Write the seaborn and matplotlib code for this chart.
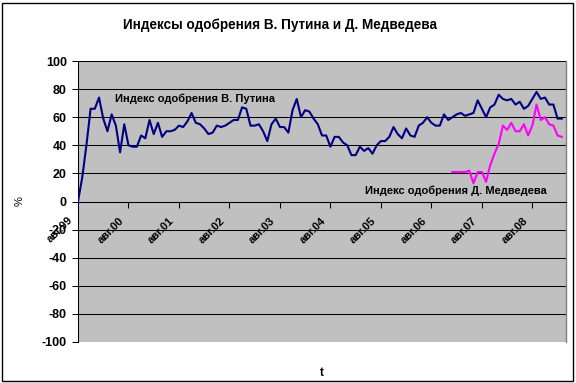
import pandas as pd
import matplotlib
matplotlib.use("Agg")
import matplotlib.pyplot as plt
import matplotlib.transforms as mtransforms
from matplotlib.patches import Rectangle
import seaborn as sns

# monthly approval index, Aug 1999 .. Mar 2009
putin = [
    0, 17, 40, 66, 66, 74, 59, 50, 62, 54, 35, 55,
    40, 39, 39, 47, 45, 58, 48, 56, 46, 50, 50, 51,
    54, 53, 57, 63, 56, 55, 52, 48, 49, 54, 53, 54,
    56, 58, 58, 67, 66, 54, 54, 55, 50, 43, 55, 59,
    53, 53, 49, 65, 73, 60, 65, 64, 59, 55, 47, 47,
    39, 46, 46, 42, 40, 33, 33, 39, 36, 38, 34, 40,
    43, 43, 46, 53, 48, 45, 52, 47, 46, 54, 56, 60,
    56, 54, 54, 62, 58, 60, 62, 63, 61, 62, 63, 72,
    66, 60, 67, 69, 76, 73, 72, 73, 69, 71, 66, 68,
    73, 78, 73, 74, 69, 69, 59, 59,
]
medvedev_start = 89
medvedev = [
    21, 21, 21, 21, 22, 13, 21, 21, 14, 26, 34, 41,
    54, 51, 56, 50, 50, 55, 47, 54, 69, 58, 60, 55,
    54, 47, 46,
]
year_labels = ["авг.99", "авг.00", "авг.01", "авг.02", "авг.03",
               "авг.04", "авг.05", "авг.06", "авг.07", "авг.08"]

df_p = pd.DataFrame({"month": range(len(putin)), "value": putin})
df_m = pd.DataFrame({"month": range(medvedev_start, medvedev_start + len(medvedev)),
                     "value": medvedev})

plt.rcParams["font.family"] = ["Liberation Sans", "DejaVu Sans"]
plt.rcParams["font.weight"] = "bold"

fig = plt.figure(figsize=(5.76, 3.83), dpi=100)
ax = fig.add_axes([78 / 576, 1 - 342 / 383, 488 / 576, 281 / 383])
ax.set_facecolor("#C0C0C0")

# gridlines
for yv in range(-100, 101, 20):
    ax.axhline(yv, color="black", lw=0.75, zorder=1)

sns.lineplot(data=df_p, x="month", y="value", color="#000080", lw=1.5, ax=ax, zorder=3)
sns.lineplot(data=df_m, x="month", y="value", color="#FF00FF", lw=1.5, ax=ax, zorder=3)

ax.set_xlim(0, 116)
ax.set_ylim(-100, 100)

ax.spines["bottom"].set_position(("data", 0))
ax.spines["bottom"].set_color("black")
ax.spines["bottom"].set_linewidth(0.75)
ax.spines["left"].set_color("black")
ax.spines["left"].set_linewidth(0.75)
ax.spines["top"].set_visible(False)
ax.spines["right"].set_color("#808080")
ax.spines["right"].set_linewidth(1.0)

ax.set_yticks(range(-100, 101, 20))
ax.set_yticklabels([str(v) for v in range(-100, 101, 20)])
ax.set_xticks(range(0, 12 * len(year_labels), 12))
ax.set_xticklabels(year_labels, rotation=45, ha="right", va="top",
                   rotation_mode="anchor")
ax.tick_params(axis="y", direction="out", length=4, width=0.75, pad=4, labelsize=9)
ax.tick_params(axis="x", direction="out", length=4, width=0.75, pad=3, labelsize=8)

# shift the slanted month labels left like the original
shift = mtransforms.ScaledTranslation(-10 / 100, -4 / 100, fig.dpi_scale_trans)
for lbl in ax.get_xticklabels():
    lbl.set_transform(lbl.get_transform() + shift)

ax.set_xlabel("t", fontsize=8.5, fontweight="bold")
ax.xaxis.set_label_coords(0.5, -0.09)
ax.set_ylabel("%", fontsize=8, fontweight="normal")
ax.yaxis.set_label_coords(-0.11, 0.5)

ax.text(8.8, 73, "Индекс одобрения В. Путина", fontsize=8, fontweight="bold",
        ha="left", va="center", zorder=4)
ax.text(68.2, 8, "Индекс одобрения Д. Медведева", fontsize=8, fontweight="bold",
        ha="left", va="center", zorder=4)

fig.text(280 / 576, 1 - 25 / 383, "Индексы одобрения В. Путина и Д. Медведева",
         fontsize=9.75, fontweight="bold", ha="center", va="center")

fig.patches.append(Rectangle((2 / 576, 2 / 383), 571 / 576, 378 / 383,
                             transform=fig.transFigure, fill=False,
                             edgecolor="black", lw=1.0))

fig.savefig("out.png", dpi=100)
